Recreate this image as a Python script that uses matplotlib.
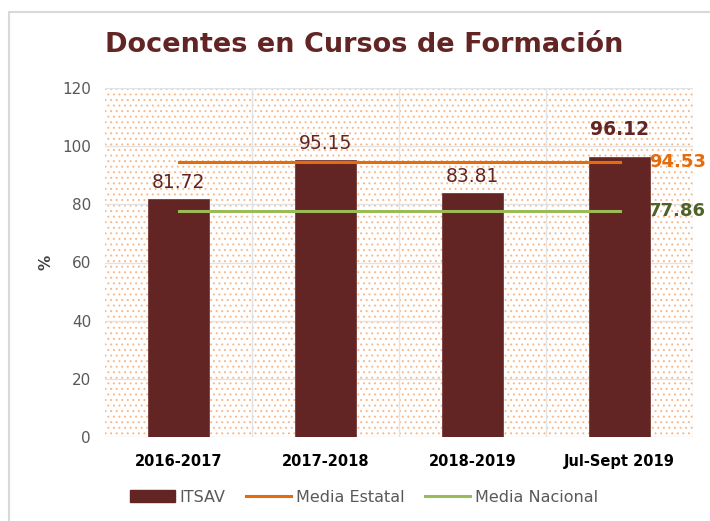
import matplotlib
matplotlib.use("Agg")
import matplotlib.pyplot as plt
from matplotlib.patches import Rectangle
from matplotlib.lines import Line2D

categories = ["2016-2017", "2017-2018", "2018-2019", "Jul-Sept 2019"]
itsav = [81.72, 95.15, 83.81, 96.12]
media_estatal = 94.53
media_nacional = 77.86
yticks = [0, 20, 40, 60, 80, 100, 120]

bar_color = "#632523"
orange = "#E46C0A"
green = "#9BBB59"
green_dark = "#4F6228"

plt.rcParams["hatch.linewidth"] = 0.7
W, H = 710, 521
fig = plt.figure(figsize=(W / 100, H / 100), dpi=100)
ax = fig.add_axes([105 / W, 1 - 437 / H, 588 / W, 349 / H])

# frame
fig.patches.append(Rectangle((9 / W, -0.1), 1.2, 1 - 12 / H + 0.1, transform=fig.transFigure,
                             fill=False, edgecolor="#D9D9D9", linewidth=1.5, zorder=0))

x = list(range(len(categories)))
ax.set_xlim(-0.5, len(categories) - 0.5)
ax.set_ylim(0, 120)

ax.patch.set_facecolor("white")
ax.patch.set_hatch("...")
ax.patch.set_edgecolor("#F7B98A")
ax.patch.set_linewidth(0)

for yv in yticks:
    ax.axhline(yv, color="#E3E3E3", lw=1, zorder=0.5)
for xv in [0.5, 1.5, 2.5, 3.5]:
    ax.axvline(xv, color="#E3E3E3", lw=1, zorder=0.5)

ax.bar(x, itsav, width=0.42, color=bar_color, edgecolor="#7a3a38", linewidth=0.6, zorder=2)
ax.plot([x[0], x[-1]], [media_estatal] * 2, color=orange, lw=2.2, zorder=3)
ax.plot([x[0], x[-1]], [media_nacional] * 2, color=green, lw=2.2, zorder=3)

for i, v in enumerate(itsav):
    last = i == len(itsav) - 1
    ax.text(i, v + (6.5 if last else 2.6), f"{v:.2f}", ha="center", va="bottom", color=bar_color,
            fontsize=13.5, fontweight="bold" if last else "normal", zorder=4)

ax.text(x[-1] + 0.2, media_estatal, f"{media_estatal:.2f}", color=orange, fontsize=13,
        fontweight="bold", va="center", ha="left", zorder=4)
ax.text(x[-1] + 0.2, media_nacional, f"{media_nacional:.2f}", color=green_dark, fontsize=13,
        fontweight="bold", va="center", ha="left", zorder=4)

for s in ax.spines.values():
    s.set_visible(False)
ax.set_yticks(yticks)
ax.set_yticklabels([str(t) for t in yticks], color="#595959", fontsize=11)
ax.set_xticks(x)
ax.set_xticklabels(categories, fontsize=10.5, fontweight="bold", color="black")
ax.tick_params(length=0, pad=10)
ax.tick_params(axis="x", pad=12)
ax.set_ylabel("%", fontsize=11, fontweight="bold", color="#404040", labelpad=6)

fig.text(105 / W, 1 - 45 / H, "Docentes en Cursos de Formación", fontsize=19.5,
         fontweight="bold", color=bar_color, va="center", ha="left")

handles = [Rectangle((0, 0), 1, 1, color=bar_color),
           Line2D([0], [0], color=orange, lw=2.2),
           Line2D([0], [0], color=green, lw=2.2)]
leg = fig.legend(handles, ["ITSAV", "Media Estatal", "Media Nacional"], loc="center",
                 bbox_to_anchor=(364 / W, 1 - 497 / H), ncol=3, frameon=False,
                 fontsize=11.5, handlelength=2.8, columnspacing=1.3, handletextpad=0.3)
for t in leg.get_texts():
    t.set_color("#595959")

fig.savefig("out.png", dpi=100)
